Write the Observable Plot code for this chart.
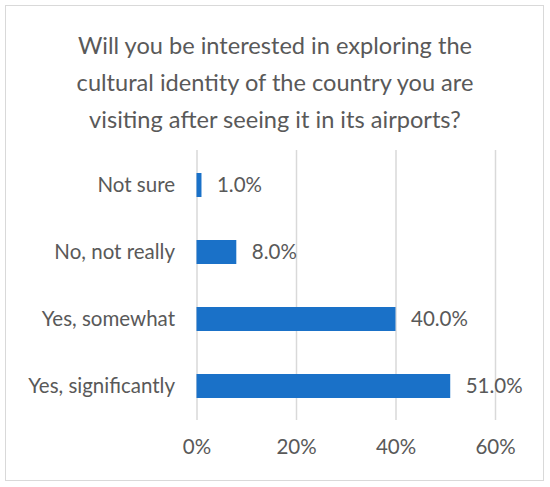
<!DOCTYPE html>
<html>
<head>
<meta charset="utf-8">
<script src="https://cdn.jsdelivr.net/npm/d3@7"></script>
<script src="https://cdn.jsdelivr.net/npm/@observablehq/plot@0.6"></script>
<style>
  html, body { margin: 0; padding: 0; background: #ffffff; }
  #wrap { position: relative; width: 550px; height: 487px; overflow: hidden; background: #fff; }
  #frame { position: absolute; left: 5px; top: 5px; width: 537px; height: 474px; border: 1.5px solid #d9d9d9; }
  #title { position: absolute; left: 0; top: 27px; width: 550px; text-align: center; font-family: Lato, sans-serif; font-size: 23.6px; line-height: 37px; color: #595959; }
  #chart { position: absolute; left: 0; top: 0; }
</style>
</head>
<body>
<div id="wrap">
  <div id="frame"></div>
  <div id="title">Will you be interested in exploring the<br>cultural identity of the country you are<br>visiting after seeing it in its airports?</div>
  <div id="chart"></div>
</div>
<script>
const categories = ["Not sure", "No, not really", "Yes, somewhat", "Yes, significantly"];
const values = [1.0, 8.0, 40.0, 51.0];
const xTicks = [0, 20, 40, 60];

const data = categories.map((c, i) => ({category: c, value: values[i]}));

const chart = Plot.plot({
  width: 550,
  height: 487,
  marginTop: 150,
  marginBottom: 67,
  marginLeft: 196.5,
  marginRight: 55,
  x: {domain: [0, 60], label: null},
  y: {domain: categories, paddingInner: 0.644, paddingOuter: 0.322, label: null},
  style: {fontFamily: "Lato, sans-serif", fontSize: "20.5px", color: "#595959", background: "transparent"},
  marks: [
    Plot.ruleX(xTicks, {stroke: "#d9d9d9", strokeWidth: 1.5}),
    Plot.barX(data, {x: "value", y: "category", fill: "#1a71c8"}),
    Plot.text(data, {x: "value", y: "category", text: d => d.value.toFixed(1) + "%", textAnchor: "start", dx: 15, fontSize: 20.5, fill: "#595959"}),
    Plot.axisX({ticks: xTicks, tickSize: 0, tickPadding: 19, tickFormat: d => d + "%", fontSize: 20.5, anchor: "bottom"}),
    Plot.axisY({tickSize: 0, tickPadding: 22, fontSize: 20.5})
  ]
});
document.getElementById("chart").appendChild(chart);
</script>
</body>
</html>
